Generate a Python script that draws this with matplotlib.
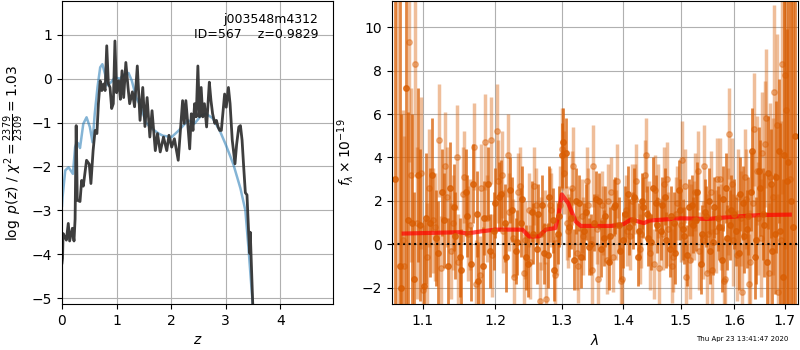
import matplotlib

matplotlib.use("Agg")
import matplotlib.pyplot as plt
from matplotlib.ticker import FixedLocator, FixedFormatter, NullLocator

# ---- left panel: log p(z) ----
Z_PZ = [0.00, 0.01, 0.02, 0.05, 0.08, 0.115, 0.14, 0.19, 0.22, 0.24, 0.26, 0.28, 0.33, 0.36,
        0.39, 0.45, 0.50, 0.53, 0.57, 0.606, 0.64, 0.667, 0.70, 0.73, 0.76, 0.79, 0.82, 0.85,
        0.88, 0.91, 0.94, 0.97, 1.00, 1.04, 1.07, 1.10, 1.13, 1.17, 1.21, 1.24, 1.29, 1.33,
        1.38, 1.43, 1.48, 1.52, 1.56, 1.61, 1.65, 1.71, 1.75, 1.80, 1.86, 1.92, 1.96, 2.01,
        2.06, 2.13, 2.17, 2.21, 2.24, 2.27, 2.30, 2.34, 2.37, 2.40, 2.43, 2.46, 2.49, 2.52,
        2.55, 2.58, 2.61, 2.65, 2.70, 2.73, 2.76, 2.80, 2.83, 2.86, 2.89, 2.92, 2.98, 3.01,
        3.05, 3.08, 3.12, 3.17, 3.20, 3.24, 3.27, 3.30, 3.33, 3.36, 3.39, 3.42, 3.44, 3.45,
        3.50, 3.53]
LOGPZ = [-4.2, -4.09, -3.53, -3.6, -3.68, -3.3, -3.7, -3.41, -3.7, -3.2, -1.07, -2.77, -2.8,
         -2.32, -2.45, -1.86, -1.95, -2.39, -1.64, -1.18, -1.25, -0.57, -0.05, -0.27, -0.12,
         -0.27, 0.75, -0.12, -0.2, -0.68, -0.57, 0.86, -0.32, -0.05, -0.47, 0.18, -0.43, 0.37,
         -0.2, -0.57, -0.3, -0.64, 0.29, -0.95, -0.2, -1.09, -0.43, -1.33, -0.73, -1.64, -1.25,
         -1.67, -1.33, -1.64, -1.29, -1.56, -1.37, -1.86, -1.18, -0.5, -1.02, -0.5, -0.95,
         -1.6, -0.8, -1.18, -0.57, -0.87, 0.29, -0.87, -0.2, -0.87, -0.57, -1.1, -0.08, -0.5,
         -0.8, -1.02, -0.95, -1.1, -1.18, -1.18, -0.35, -0.65, -0.2, -0.57, -1.4, -1.94, -1.5,
         -1.1, -1.07, -1.4, -2.02, -2.6, -2.65, -3.5, -3.98, -3.5, -5.3, -5.6]

Z_SMOOTH = [0.0, 0.01, 0.06, 0.12, 0.2, 0.24, 0.27, 0.30, 0.33, 0.39, 0.45, 0.51, 0.56, 0.60,
            0.65, 0.70, 0.74, 0.79, 0.83, 0.9, 0.97, 1.06, 1.14, 1.22, 1.28, 1.36, 1.43, 1.54,
            1.61, 1.77, 1.85, 2.01, 2.14, 2.31, 2.43, 2.55, 2.64, 2.76, 2.89, 3.0, 3.14, 3.27,
            3.36, 3.42, 3.48, 3.53]
LOGP_SMOOTH = [-2.9, -2.7, -2.09, -2.02, -2.17, -1.56, -1.45, -1.48, -1.58, -1.03, -0.88, -1.1,
               -1.45, -0.8, -0.2, 0.26, 0.33, 0.1, -0.15, -0.08, 0.03, 0.0, 0.1, 0.13, -0.05,
               -0.43, -0.6, -1.0, -1.1, -1.25, -1.3, -1.33, -1.18, -0.95, -1.02, -0.84, -0.8,
               -0.9, -1.18, -1.5, -1.95, -2.5, -3.0, -3.9, -4.9, -5.6]

# ---- right panel: spectrum (units of 1e-19), four beams ----
WAVE_A = [1.064, 1.070, 1.078, 1.086, 1.094, 1.102, 1.110, 1.118, 1.126, 1.134, 1.142, 1.150,
          1.158, 1.166, 1.174, 1.182, 1.190, 1.198, 1.206, 1.214, 1.222, 1.230, 1.238, 1.246,
          1.254, 1.262, 1.270, 1.278, 1.286, 1.294, 1.300, 1.306, 1.314, 1.322, 1.330, 1.338,
          1.346, 1.354, 1.362, 1.370, 1.378, 1.386, 1.394, 1.402, 1.410, 1.418, 1.426, 1.434,
          1.442, 1.450, 1.458, 1.466, 1.474, 1.482, 1.490, 1.498, 1.506, 1.514, 1.522, 1.530,
          1.538, 1.546, 1.554, 1.562, 1.570, 1.578, 1.586, 1.594, 1.602, 1.610, 1.618, 1.626,
          1.634, 1.642, 1.650, 1.658, 1.666, 1.674, 1.682, 1.690, 1.698, 1.706, 1.713, 1.720]
FLUX_A = [3.0, -1.0, 7.2, 1.0, 3.2, -1.9, 1.0, 0.3, 2.4, -1.0, 1.7, -0.6, 2.4, -0.9, 1.4,
          -1.0, 2.8, 0.6, 2.2, 1.0, 2.5, -0.3, 1.0, -0.6, 1.5, -0.2, 1.8, -0.5, 1.1, 0.5, 4.1,
          4.2, 1.2, 2.0, -0.6, 1.5, 0.0, 2.1, -0.2, 1.3, 0.4, 1.8, -0.3, 1.4, 0.8, 2.2, 0.6,
          1.7, 0.3, 2.6, 0.9, 1.8, 0.2, 1.3, -0.4, 1.6, 0.4, 1.7, 0.9, 2.4, 0.5, 1.3, -0.3,
          1.7, 0.8, 2.1, 0.3, 1.6, 0.6, 2.3, 0.4, 1.3, 4.3, 0.2, 2.6, 0.9, 3.3, -0.3, 3.1, 0.6,
          4.1, 3.8, 2.0, 5.0]
ERR_A = [30, 20, 12, 5.0, 4.0, 3.0, 2.5, 2.2, 2.0, 2.2, 2.0, 1.8, 2.0, 1.7, 2.0, 1.8, 1.7,
         1.8, 1.6, 1.8, 1.5, 1.5, 1.6, 1.5, 1.4, 1.6, 1.4, 1.5, 1.5, 1.4, 1.5, 1.6, 1.4, 1.5,
         1.4, 1.3, 1.4, 1.3, 1.3, 1.4, 1.3, 1.3, 1.3, 1.3, 1.3, 1.3, 1.3, 1.4, 1.3, 1.4, 1.3,
         1.3, 1.3, 1.4, 1.4, 1.4, 1.3, 1.3, 1.3, 1.4, 1.3, 1.4, 1.5, 1.4, 1.5, 1.5, 1.5, 1.6,
         1.6, 1.7, 1.7, 1.8, 2.0, 2.0, 2.2, 2.4, 2.6, 3.0, 3.5, 5.0, 8.0, 14, 25, 30]

WAVE_C = [1.072, 1.080, 1.088, 1.096, 1.104, 1.112, 1.120, 1.128, 1.136, 1.144, 1.152, 1.160,
          1.168, 1.176, 1.184, 1.192, 1.200, 1.208, 1.216, 1.224, 1.232, 1.240, 1.248, 1.256,
          1.264, 1.272, 1.280, 1.288, 1.296, 1.302, 1.312, 1.320, 1.328, 1.336, 1.344, 1.352,
          1.360, 1.368, 1.376, 1.384, 1.392, 1.400, 1.408, 1.416, 1.424, 1.432, 1.440, 1.448,
          1.456, 1.464, 1.472, 1.480, 1.488, 1.496, 1.504, 1.512, 1.520, 1.528, 1.536, 1.544,
          1.552, 1.560, 1.568, 1.576, 1.584, 1.592, 1.600, 1.608, 1.616, 1.624, 1.632, 1.640,
          1.648, 1.656, 1.664, 1.672, 1.680, 1.688, 1.696, 1.704, 1.716]
FLUX_C = [-2.0, 1.1, -1.6, 0.9, 1.2, 3.2, -0.4, 1.1, 2.6, 0.4, -1.2, 1.3, 2.8, -1.7, 1.2,
          -0.3, 1.9, 2.3, -0.6, 1.6, 0.1, 2.1, -0.9, 0.5, 1.4, -0.4, 2.2, -1.2, 1.3, 4.7, 0.8,
          -0.7, 1.9, 0.6, -0.1, 1.0, 2.0, 0.3, -0.8, 1.7, 0.9, 0.2, 2.3, 1.1, -0.6, 2.0, 1.4,
          0.1, 1.9, 0.6, 2.2, -0.2, 1.0, 2.5, 0.7, -0.5, 1.8, 1.1, -0.9, 1.5, 2.0, 0.1, 1.2,
          -0.7, 2.6, 0.9, 1.4, -0.4, 1.9, 0.7, 2.4, -0.6, 3.4, 1.4, -0.8, 2.8, 0.5, 4.3, -1.5,
          2.9, 0.8]
ERR_C = [8, 5, 4, 3.5, 3, 2.6, 2.4, 2.2, 2.1, 2.0, 1.9, 1.9, 1.8, 1.8, 1.7, 1.7, 1.6, 1.6,
         1.6, 1.5, 1.5, 1.5, 1.5, 1.4, 1.4, 1.4, 1.4, 1.4, 1.4, 1.6, 1.4, 1.4, 1.3, 1.3, 1.3,
         1.3, 1.3, 1.3, 1.3, 1.3, 1.3, 1.3, 1.3, 1.3, 1.3, 1.3, 1.3, 1.3, 1.3, 1.3, 1.3, 1.3,
         1.4, 1.4, 1.4, 1.4, 1.4, 1.4, 1.4, 1.5, 1.5, 1.5, 1.5, 1.5, 1.6, 1.6, 1.6, 1.7, 1.7,
         1.8, 1.8, 1.9, 2.0, 2.1, 2.3, 2.5, 2.8, 3.3, 4.5, 7.0, 20]

WAVE_B = [1.067, 1.074, 1.082, 1.090, 1.098, 1.106, 1.114, 1.122, 1.130, 1.138, 1.146, 1.154,
          1.162, 1.170, 1.178, 1.186, 1.194, 1.202, 1.210, 1.218, 1.226, 1.234, 1.242, 1.250,
          1.258, 1.266, 1.274, 1.282, 1.290, 1.298, 1.303, 1.310, 1.318, 1.326, 1.334, 1.342,
          1.350, 1.358, 1.366, 1.374, 1.382, 1.390, 1.398, 1.406, 1.414, 1.422, 1.430, 1.438,
          1.446, 1.454, 1.462, 1.470, 1.478, 1.486, 1.494, 1.502, 1.510, 1.518, 1.526, 1.534,
          1.542, 1.550, 1.558, 1.566, 1.574, 1.582, 1.590, 1.598, 1.606, 1.614, 1.622, 1.630,
          1.638, 1.646, 1.654, 1.662, 1.670, 1.678, 1.686, 1.694, 1.702, 1.710]
FLUX_B = [-3.0, 0.2, 9.3, 8.3, 3.3, -0.6, 1.1, 4.8, 3.6, -0.3, 4.0, 2.3, 0.5, 4.5, -1.4, 4.7,
          4.8, 5.2, 3.2, 4.1, 0.3, 2.4, -1.3, 1.6, 2.7, -2.6, 0.8, 1.8, -1.4, 1.8, 3.3, 0.6,
          3.6, -1.0, 0.4, 1.8, 3.6, -1.6, 1.1, 2.0, -0.6, 2.9, -1.6, 0.6, 2.0, 2.9, 0.5, 4.1,
          -0.4, 2.5, -1.1, 2.8, 0.7, -0.6, 1.9, 3.9, -1.5, 1.0, 2.4, -0.3, 3.6, 0.5, -1.2, 3.0,
          0.8, -1.6, 5.1, 0.2, 2.2, -2.2, 2.1, -0.8, 5.3, 1.2, 4.2, 5.8, 3.1, 7.0, -2.2, 8.3,
          6.2, 3.0]
ERR_B = [25, 6.0, 5.5, 5.0, 3.5, 2.5, 2.4, 2.6, 2.5, 2.2, 2.4, 2.2, 2.2, 2.0, 1.8, 2.2, 2.0,
         2.2, 2.0, 1.9, 1.8, 1.8, 1.8, 1.7, 1.8, 1.8, 1.7, 1.7, 1.6, 1.8, 1.9, 1.7, 1.8, 1.7,
         1.8, 1.7, 1.9, 1.6, 1.6, 1.7, 1.6, 1.7, 1.6, 1.6, 1.7, 1.7, 1.6, 1.7, 1.7, 1.6, 1.7,
         1.7, 1.7, 1.6, 1.7, 1.8, 1.7, 1.8, 1.8, 1.8, 1.9, 1.8, 1.9, 1.9, 2.0, 2.0, 2.1, 2.1,
         2.2, 2.2, 2.3, 2.4, 2.6, 2.6, 2.8, 3.2, 3.4, 4.0, 4.5, 6.0, 9.0, 15]

WAVE_D = [1.076, 1.084, 1.092, 1.100, 1.108, 1.116, 1.124, 1.132, 1.140, 1.148, 1.156, 1.164,
          1.172, 1.180, 1.188, 1.196, 1.204, 1.212, 1.220, 1.228, 1.236, 1.244, 1.252, 1.260,
          1.268, 1.276, 1.284, 1.292, 1.300, 1.308, 1.316, 1.324, 1.332, 1.340, 1.348, 1.356,
          1.364, 1.372, 1.380, 1.388, 1.396, 1.404, 1.412, 1.420, 1.428, 1.436, 1.444, 1.452,
          1.460, 1.468, 1.476, 1.484, 1.492, 1.500, 1.508, 1.516, 1.524, 1.532, 1.540, 1.548,
          1.556, 1.564, 1.572, 1.580, 1.588, 1.596, 1.604, 1.612, 1.620, 1.628, 1.636, 1.644,
          1.652, 1.660, 1.668, 1.676, 1.684, 1.692, 1.700]
FLUX_D = [-1.0, 3.2, 1.0, -2.1, 2.6, 0.8, -1.1, 2.2, 1.0, -0.8, 3.1, 0.9, -1.8, 2.6, 1.2,
          -0.5, 2.9, 0.6, 1.5, -1.5, 2.7, 0.2, -0.8, 1.8, 0.5, -2.5, 1.6, 0.3, 4.4, 1.0, 2.6,
          -0.4, 1.3, 2.9, -1.2, 0.7, 1.8, -0.7, 2.4, 0.9, -1.7, 1.6, 0.4, 2.1, -0.2, 3.2, 1.3,
          -0.9, 2.0, 0.5, 3.0, -1.0, 1.4, 0.9, 2.7, -0.7, 1.1, 3.4, 0.2, -1.3, 2.4, 0.6, 3.0,
          -1.7, 1.5, 2.8, -0.5, 1.2, 3.1, -1.8, 1.9, 3.4, 0.3, 4.6, -1.3, 2.2, 5.5, 0.2, 7.8]
ERR_D = [6.0, 4.0, 3.5, 3.0, 2.7, 2.5, 2.4, 2.3, 2.2, 2.2, 2.1, 2.1, 2.0, 2.0, 2.0, 1.9, 1.9,
         1.9, 1.8, 1.8, 1.8, 1.8, 1.7, 1.7, 1.7, 1.7, 1.7, 1.7, 1.9, 1.7, 1.7, 1.7, 1.7, 1.6,
         1.6, 1.6, 1.6, 1.6, 1.6, 1.6, 1.6, 1.6, 1.6, 1.6, 1.6, 1.6, 1.6, 1.6, 1.7, 1.7, 1.7,
         1.7, 1.7, 1.7, 1.7, 1.8, 1.8, 1.8, 1.8, 1.8, 1.9, 1.9, 1.9, 2.0, 2.0, 2.1, 2.1, 2.2,
         2.2, 2.3, 2.4, 2.5, 2.7, 2.9, 3.2, 3.6, 4.2, 5.5, 8.0]

WAVE_MODEL = [1.075, 1.15, 1.16, 1.18, 1.20, 1.24, 1.25, 1.265, 1.275, 1.29, 1.295, 1.30,
              1.31, 1.322, 1.33, 1.38, 1.40, 1.413, 1.435, 1.445, 1.50, 1.55, 1.60, 1.65, 1.71]
FLUX_MODEL = [0.5, 0.56, 0.5, 0.6, 0.68, 0.68, 0.36, 0.37, 0.68, 0.75, 1.35, 2.3, 1.9, 1.05,
              0.85, 0.85, 0.93, 1.15, 0.98, 1.1, 1.2, 1.17, 1.28, 1.35, 1.37]

ORANGE = (0.85, 0.37, 0.01)

fig = plt.figure(figsize=(8, 3.5), dpi=100)
ax1 = fig.add_axes([0.0775, 0.131, 0.339, 0.866])
ax2 = fig.add_axes([0.49, 0.131, 0.5075, 0.866])

ax1.plot(Z_SMOOTH, LOGP_SMOOTH, color="#1f77b4", alpha=0.55, lw=1.8)
ax1.plot(Z_PZ, LOGPZ, color="0.2", alpha=0.95, lw=2)
ax1.set_xlim(0, 4.97)
ax1.set_ylim(-5.14, 1.77)
ax1.set_xticks([0, 1, 2, 3, 4])
ax1.set_yticks([-5, -4, -3, -2, -1, 0, 1])
ax1.grid()
ax1.set_axisbelow(True)
ax1.set_xlabel("$z$")
ax1.set_ylabel(r"$\log\ p(z)$ / $\chi^2=\frac{2379}{2309}=1.03$")
ax1.text(0.945, 0.96, "j003548m4312\nID=567    z=0.9829", transform=ax1.transAxes,
         ha="right", va="top", fontsize=9)

# light beams first, dark ones on top
for w, f, e in [(WAVE_B, FLUX_B, ERR_B), (WAVE_D, FLUX_D, ERR_D)]:
    ax2.errorbar(w, f, e, color=ORANGE, alpha=0.4, marker="o", ms=4,
                 linestyle="None", elinewidth=2.5)
for w, f, e in [(WAVE_A, FLUX_A, ERR_A), (WAVE_C, FLUX_C, ERR_C)]:
    ax2.errorbar(w, f, e, color=ORANGE, alpha=0.75, marker="o", ms=4,
                 linestyle="None", elinewidth=2)
ax2.plot(WAVE_MODEL, FLUX_MODEL, color="r", alpha=0.7, lw=3)
ax2.axhline(0, color="k", ls=":", lw=1.5)
ax2.set_xscale("log")
ax2.set_xlim(1.06, 1.727)
ax2.set_ylim(-2.75, 11.2)
ticks = [1.1, 1.2, 1.3, 1.4, 1.5, 1.6, 1.7]
ax2.xaxis.set_major_locator(FixedLocator(ticks))
ax2.xaxis.set_major_formatter(FixedFormatter([f"{t:.1f}" for t in ticks]))
ax2.xaxis.set_minor_locator(NullLocator())
ax2.set_yticks([-2, 0, 2, 4, 6, 8, 10])
ax2.grid()
ax2.set_axisbelow(True)
ax2.set_xlabel(r"$\lambda$")
ax2.set_ylabel(r"$f_\lambda\times10^{-19}$")

fig.text(0.985, 0.022, "Thu Apr 23 13:41:47 2020", ha="right", va="bottom", fontsize=5)

fig.savefig("out.png", dpi=100)
